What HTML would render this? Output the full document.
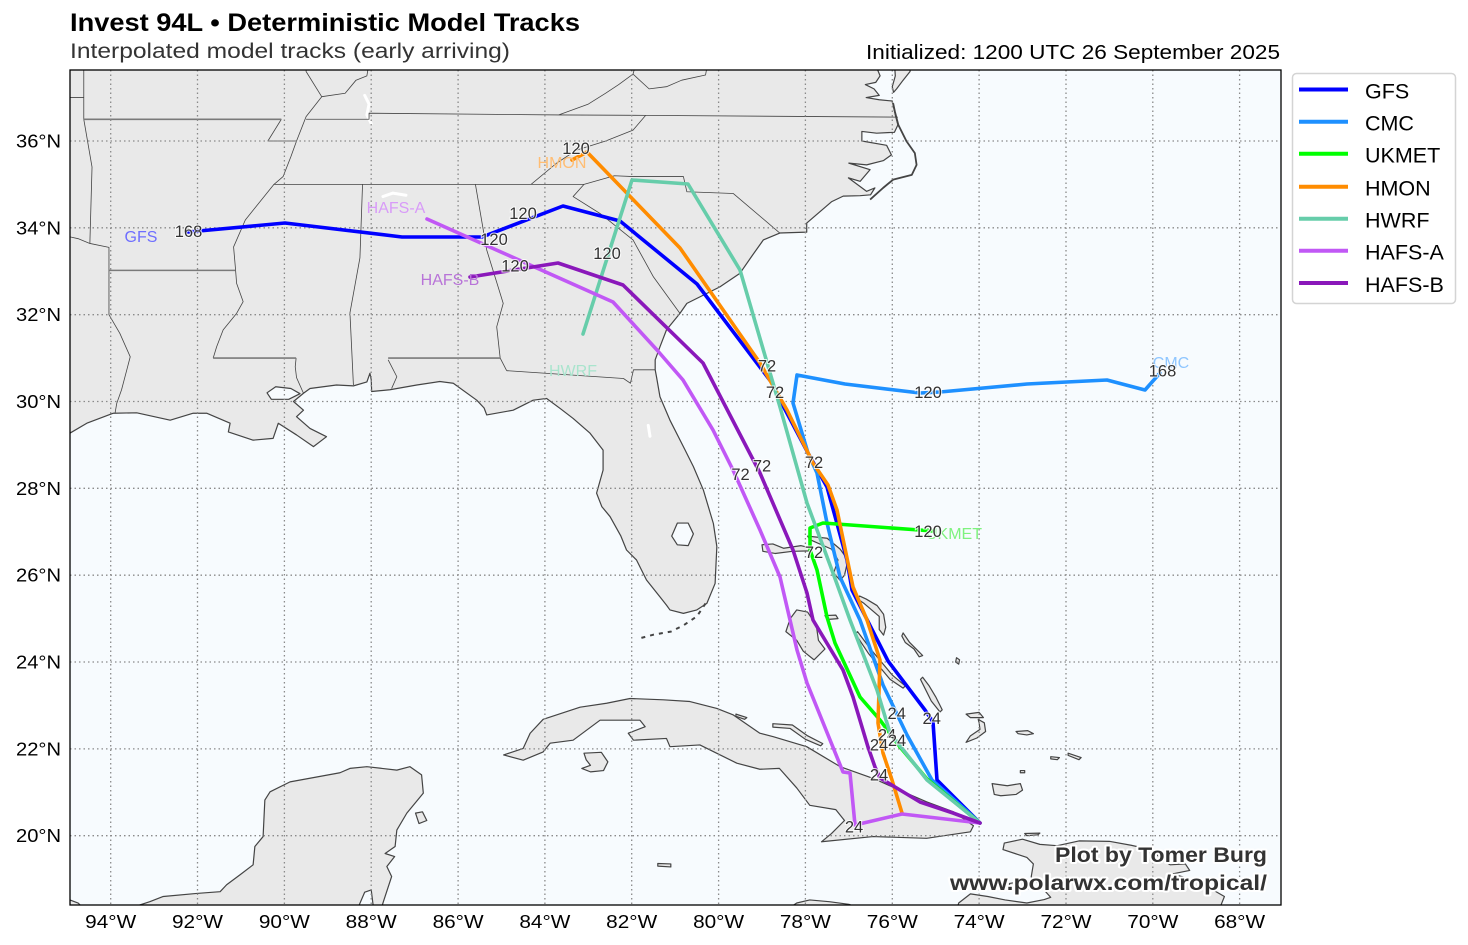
<!DOCTYPE html>
<html><head><meta charset="utf-8"><style>
html,body{margin:0;padding:0;background:#fff;}
svg{display:block;}
text{font-family:"Liberation Sans",Arial,sans-serif;}
.m *{vector-effect:non-scaling-stroke;}
</style></head><body>
<svg width="1468" height="945" viewBox="0 0 1468 945" xmlns="http://www.w3.org/2000/svg">
<defs><clipPath id="pc"><rect x="70" y="70" width="1211" height="835"/></clipPath></defs>
<rect x="0" y="0" width="1468" height="945" fill="#fff"/>
<g clip-path="url(#pc)">
<rect x="70" y="70" width="1211" height="835" fill="#f7fbfe"/>
<g class="m" transform="matrix(43.42,0,0,-43.42,4192.18,1704.1)" fill="#e9e9e9" stroke="#444" stroke-width="1.2" stroke-linejoin="round">
<!-- US mainland -->
<polygon points="-95.2,37.8 -76.35,37.8 -76.33,37.62 -76.28,37.5 -76.38,37.35 -76.62,37.3 -76.42,37.2 -76.3,37.05 -76.6,37.0 -76.3,36.95 -76.0,36.92 -75.93,36.6 -75.87,36.37 -75.95,36.2 -76.36,36.18 -76.7,36.22 -76.7,36.0 -76.13,35.9 -76.02,35.68 -76.2,35.55 -76.59,35.45 -77.0,35.49 -76.51,35.34 -76.74,35.07 -77.01,35.15 -76.59,34.84 -76.4,34.92 -76.5,34.76 -76.74,34.74 -77.13,34.73 -77.4,34.6 -77.97,34.11 -77.97,33.9 -78.59,33.88 -78.97,33.72 -79.24,33.34 -79.51,32.95 -79.97,32.64 -80.43,32.41 -80.73,32.26 -80.89,32.03 -81.2,31.65 -81.35,31.26 -81.46,30.96 -81.46,30.73 -81.43,30.57 -81.35,30.11 -81.12,29.57 -80.77,28.88 -80.58,28.5 -80.35,27.96 -80.12,27.19 -80.04,26.66 -80.08,25.81 -80.27,25.35 -80.5,25.2 -80.81,25.12 -81.12,25.2 -81.2,25.31 -81.35,25.5 -81.66,25.89 -81.89,26.35 -82.12,26.58 -82.25,26.9 -82.5,27.35 -82.69,27.58 -82.81,27.89 -82.66,28.42 -82.66,28.88 -82.96,29.27 -83.35,29.61 -83.65,29.84 -83.96,30.07 -84.27,30.03 -84.73,29.8 -85.34,29.69 -85.4,29.85 -85.57,30.03 -86.11,30.42 -86.42,30.46 -86.95,30.38 -87.57,30.27 -87.99,30.23 -88.0,30.5 -88.03,30.65 -88.1,30.45 -88.41,30.36 -88.8,30.38 -89.41,30.3 -89.56,30.19 -89.79,30.0 -89.56,29.8 -89.72,29.65 -89.41,29.38 -89.03,29.19 -89.33,28.96 -89.72,29.23 -90.14,29.5 -90.26,29.15 -90.72,29.11 -91.29,29.3 -91.25,29.5 -91.79,29.73 -92.1,29.73 -92.63,29.57 -93.4,29.74 -93.94,29.73 -94.55,29.5 -94.94,29.27 -95.2,29.2"/>
<!-- Delmarva -->
<polygon points="-75.95,37.8 -75.58,37.8 -75.59,37.6 -75.75,37.4 -75.9,37.2 -75.97,37.12 -76.0,37.25 -75.93,37.5"/>
<!-- Mexico -->
<polygon points="-95.2,18.35 -95.2,18.55 -94.94,18.52 -94.75,18.45 -94.65,18.35"/>
<polygon points="-93.5,18.35 -93.1,18.48 -92.79,18.6 -92.02,18.67 -91.48,18.71 -91.33,18.87 -91.02,19.1 -90.72,19.33 -90.68,19.75 -90.49,19.98 -90.45,20.82 -90.33,21.01 -89.87,21.24 -88.72,21.45 -88.49,21.55 -88.1,21.59 -87.41,21.51 -87.11,21.59 -86.84,21.4 -86.8,20.98 -87.18,20.52 -87.41,20.13 -87.45,19.75 -87.68,19.59 -87.46,19.52 -87.64,19.29 -87.53,19.06 -87.72,18.48 -87.76,18.35 -87.95,18.35 -88.0,18.75 -88.15,18.7 -88.3,18.35"/>
<polygon points="-86.98,20.52 -86.82,20.55 -86.72,20.35 -86.9,20.28"/>
<!-- Cuba -->
<polygon points="-84.95,21.86 -84.5,22.01 -84.34,22.36 -84.04,22.68 -83.19,22.96 -82.58,23.05 -82.04,23.16 -81.27,23.13 -80.66,23.09 -80.04,22.93 -79.66,22.78 -79.05,22.36 -78.74,22.28 -77.97,22.05 -77.2,21.59 -76.44,21.32 -75.67,20.98 -75.21,20.78 -74.59,20.55 -74.13,20.23 -74.2,20.09 -75.21,19.94 -76.44,19.98 -77.63,19.86 -77.4,20.05 -77.1,20.35 -77.3,20.6 -77.9,20.7 -78.2,21.1 -78.6,21.55 -79.05,21.53 -79.58,21.67 -80.43,22.09 -81.12,22.05 -81.2,22.24 -81.96,22.2 -82.08,22.36 -81.69,22.51 -81.81,22.66 -82.73,22.66 -83.35,22.2 -83.88,22.13 -84.04,21.93 -84.5,21.74"/>
<polygon points="-83.1,21.9 -82.7,21.92 -82.55,21.7 -82.65,21.5 -82.95,21.47 -83.15,21.55 -82.95,21.62 -83.05,21.75"/>
<polygon points="-79.6,22.8 -79.35,22.72 -79.4,22.68 -79.6,22.75"/>
<polygon points="-78.75,22.58 -78.3,22.55 -77.95,22.3 -77.6,22.12 -77.65,22.07 -78.0,22.22 -78.35,22.47 -78.75,22.5"/>
<polygon points="-81.4,19.36 -81.1,19.35 -81.1,19.28 -81.4,19.3"/>
<!-- Jamaica sliver -->
<polygon points="-78.35,18.35 -78.2,18.45 -77.9,18.52 -77.45,18.48 -77.0,18.42 -76.8,18.35"/>
<!-- Hispaniola -->
<polygon points="-74.5,18.35 -74.47,18.45 -74.2,18.66 -73.8,18.6 -73.4,18.52 -72.9,18.45 -72.5,18.53 -72.35,18.58 -72.55,18.8 -72.8,19.05 -72.75,19.35 -72.9,19.5 -73.45,19.68 -73.42,19.83 -73.0,19.92 -72.6,19.8 -72.2,19.77 -71.7,19.88 -71.0,19.87 -70.5,19.78 -70.0,19.67 -69.8,19.45 -69.6,19.33 -69.25,19.35 -69.15,19.2 -69.55,19.12 -69.3,19.05 -69.0,18.95 -68.7,18.8 -68.35,18.6 -68.45,18.35"/>
<polygon points="-73.3,18.9 -73.0,18.95 -72.75,18.8 -73.0,18.75 -73.3,18.82"/>
<polygon points="-72.95,20.05 -72.6,20.06 -72.65,20.02 -72.9,20.0"/>
<!-- Bahamas / Turks -->
<polygon points="-79.0,26.7 -78.75,26.72 -78.5,26.62 -78.1,26.68 -77.85,26.62 -77.9,26.56 -78.3,26.55 -78.7,26.5 -78.98,26.55"/>
<polygon points="-77.95,26.9 -77.5,26.85 -77.2,26.6 -77.02,26.35 -77.1,26.0 -77.2,25.88 -77.35,26.05 -77.25,26.35 -77.4,26.6 -77.9,26.82"/>
<polygon points="-78.2,25.2 -77.95,25.15 -77.75,24.85 -77.7,24.5 -77.55,24.3 -77.8,24.05 -78.05,24.25 -78.2,24.5 -78.45,24.7 -78.35,25.0"/>
<polygon points="-77.55,25.07 -77.3,25.08 -77.25,25.0 -77.5,24.98"/>
<polygon points="-76.75,25.52 -76.6,25.45 -76.35,25.3 -76.2,25.1 -76.15,24.8 -76.2,24.62 -76.3,24.75 -76.3,25.05 -76.65,25.35 -76.8,25.45"/>
<polygon points="-75.75,24.67 -75.6,24.45 -75.4,24.25 -75.3,24.15 -75.38,24.12 -75.5,24.3 -75.7,24.45 -75.78,24.6"/>
<polygon points="-76.8,24.7 -76.5,24.3 -76.0,23.7 -75.7,23.45 -75.75,23.4 -76.05,23.6 -76.55,24.2 -76.85,24.65"/>
<polygon points="-75.3,23.65 -75.15,23.45 -75.0,23.2 -74.85,22.9 -74.9,22.85 -75.1,23.1 -75.25,23.4 -75.35,23.6"/>
<polygon points="-74.52,24.1 -74.45,24.05 -74.47,23.95 -74.54,24.0"/>
<polygon points="-74.3,22.8 -74.0,22.84 -73.9,22.72 -74.2,22.72"/>
<polygon points="-74.02,22.68 -73.88,22.6 -73.85,22.4 -74.05,22.25 -74.3,22.15 -74.2,22.3 -73.98,22.45 -74.0,22.6"/>
<polygon points="-73.15,22.4 -72.88,22.42 -72.75,22.35 -72.9,22.32 -73.1,22.35"/>
<polygon points="-73.7,21.2 -73.35,21.15 -73.05,21.2 -73.0,21.05 -73.15,20.95 -73.5,20.92 -73.65,20.95"/>
<polygon points="-73.05,21.5 -72.95,21.5 -72.95,21.45 -73.05,21.45"/>
<polygon points="-72.35,21.82 -72.15,21.8 -72.2,21.75 -72.35,21.77"/>
<polygon points="-71.95,21.9 -71.65,21.8 -71.7,21.75 -71.95,21.85"/>
<!-- lakes -->
<g fill="#f7fbfe">
<polygon points="-90.4,30.2 -90.2,30.34 -89.85,30.3 -89.64,30.18 -89.9,30.05 -90.3,30.05"/>
<polygon points="-80.95,27.2 -80.7,27.2 -80.58,26.95 -80.7,26.68 -80.95,26.7 -81.08,26.9"/>
</g>
<g fill="none" stroke="#fff" stroke-width="3" stroke-linecap="round">
<polyline points="-88.15,37.05 -88.05,36.85 -88.1,36.6 -88.0,36.4"/>
<polyline points="-87.73,34.72 -87.5,34.8 -87.2,34.75"/>
<polyline points="-81.62,29.45 -81.58,29.2"/>
</g>
<!-- keys -->
<polyline fill="none" stroke="#444" stroke-width="2" stroke-dasharray="4 5" points="-80.3,25.35 -80.5,25.05 -80.8,24.85 -81.1,24.7 -81.5,24.63 -81.8,24.55"/>
<!-- Outer Banks -->
<polyline fill="none" stroke="#444" stroke-width="1.8" points="-75.98,36.87 -75.94,36.68 -75.86,36.37 -75.67,35.99 -75.48,35.72 -75.44,35.45 -75.55,35.22 -75.98,35.11 -76.21,34.92 -76.51,34.65"/>
<!-- state borders thin -->
<g fill="none" stroke="#444" stroke-width="0.8">
<polyline points="-95.2,37.0 -94.62,37.0"/>
<polyline points="-94.62,37.8 -94.62,36.5 -94.43,35.4 -94.48,33.64"/>
<polyline points="-95.2,33.85 -94.75,33.75 -94.48,33.64 -94.04,33.55 -94.04,33.02 -94.04,32.0 -93.79,31.57 -93.55,31.03 -93.75,30.27 -93.86,29.96 -93.9,29.73"/>
<polyline points="-89.5,37.8 -89.5,37.6 -89.14,37.02 -89.5,36.56 -89.72,36.0 -89.85,35.64 -90.03,35.18 -90.25,34.99 -90.9,34.18 -91.17,33.56 -91.13,33.1 -91.1,32.72 -90.95,32.3 -91.1,32.03 -91.41,31.65 -91.56,31.26 -91.64,31.0"/>
<polyline points="-90.07,36.5 -90.38,36.0 -89.72,36.0"/>
<polyline points="-89.14,37.02 -88.6,37.1 -88.35,37.4 -88.1,37.5 -88.05,37.8"/>
<polyline points="-89.73,31.0 -89.75,30.8 -89.72,30.55 -89.56,30.19"/>
<polyline points="-90.25,35.0 -83.1,35.0"/>
<polyline points="-89.5,36.5 -88.05,36.5 -88.05,36.64 -83.68,36.6 -81.68,36.59 -75.87,36.55"/>
<polyline points="-81.68,36.59 -81.97,36.25 -82.6,36.0 -83.27,35.79 -83.73,35.49 -84.32,35.0"/>
<polyline points="-83.68,36.6 -83.0,36.85 -82.6,37.1 -82.3,37.3 -81.97,37.54 -81.9,37.8"/>
<polyline points="-81.97,37.54 -81.6,37.2 -81.2,37.25 -80.85,37.4 -80.3,37.52 -80.25,37.8"/>
<polyline points="-88.2,35.0 -88.26,33.31 -88.49,32.04 -88.41,30.38"/>
<polyline points="-85.6,35.0 -85.34,33.49 -84.96,32.26 -85.11,31.72 -85.03,31.0 -84.88,30.71"/>
<polyline points="-87.61,30.96 -87.41,30.57 -87.53,30.3"/>
<polyline points="-84.88,30.71 -82.19,30.53 -82.03,30.42 -81.96,30.73 -81.46,30.73"/>
<polyline points="-83.1,35.0 -83.35,34.72 -82.73,34.33 -81.97,33.72 -81.5,32.87 -80.89,32.03"/>
<polyline points="-83.1,35.0 -82.4,35.2 -81.97,35.18 -80.81,35.18 -80.73,34.83 -79.66,34.79 -78.59,33.88"/>
</g>
<g fill="none" stroke="#7a7a7a" stroke-width="1.6">
<polyline points="-94.62,36.5 -90.07,36.5"/>
<polyline points="-94.04,33.02 -91.13,33.02"/>
<polyline points="-91.64,31.0 -89.73,31.0"/>
<polyline points="-87.61,31.0 -85.03,31.0"/>
</g>
</g>
<!-- grid -->
<g stroke="#8a8a8a" stroke-width="1.3" stroke-dasharray="1.5 3">
<line x1="110.7" y1="70" x2="110.7" y2="905"/><line x1="197.5" y1="70" x2="197.5" y2="905"/><line x1="284.4" y1="70" x2="284.4" y2="905"/><line x1="371.2" y1="70" x2="371.2" y2="905"/><line x1="458.1" y1="70" x2="458.1" y2="905"/><line x1="544.9" y1="70" x2="544.9" y2="905"/><line x1="631.7" y1="70" x2="631.7" y2="905"/><line x1="718.6" y1="70" x2="718.6" y2="905"/><line x1="805.4" y1="70" x2="805.4" y2="905"/><line x1="892.3" y1="70" x2="892.3" y2="905"/><line x1="979.1" y1="70" x2="979.1" y2="905"/><line x1="1066" y1="70" x2="1066" y2="905"/><line x1="1152.8" y1="70" x2="1152.8" y2="905"/><line x1="1239.6" y1="70" x2="1239.6" y2="905"/>
<line x1="70" y1="835.7" x2="1281" y2="835.7"/><line x1="70" y1="748.9" x2="1281" y2="748.9"/><line x1="70" y1="662" x2="1281" y2="662"/><line x1="70" y1="575.2" x2="1281" y2="575.2"/><line x1="70" y1="488.3" x2="1281" y2="488.3"/><line x1="70" y1="401.5" x2="1281" y2="401.5"/><line x1="70" y1="314.7" x2="1281" y2="314.7"/><line x1="70" y1="227.8" x2="1281" y2="227.8"/><line x1="70" y1="141" x2="1281" y2="141"/>
</g>
<!-- tracks -->
<g fill="none" stroke-width="3.6" stroke-linejoin="round" stroke-linecap="round">
<polyline stroke="#0000ff" points="188,232 285,223 402,237 482,237 563,206 620,221 697,284 772,383 780,400 808,453 827,487 847,560 852,590 888,661 925,710 933,722 937,780 980,823"/>
<polyline stroke="#1e90ff" points="1160,373 1145,390 1107,380 1027,384 940,392 920,393 845,384 797,375 793,403 808,453 817,473 827,523 840,577 860,620 883,685 907,735 932,780 980,823"/>
<polyline stroke="#00ff00" points="933,531 823,523 810,528 810,550 817,570 827,617 835,643 860,697 880,720 900,747 927,779 980,823"/>
<polyline stroke="#ff8c00" points="572,160 587,152 680,248 760,363 787,410 813,463 828,485 837,510 853,587 867,620 880,660 878,723 883,753 892,780 902,813"/>
<polyline stroke="#66cdaa" points="583,334 632,180 688,184 740,270 780,407 807,503 833,573 850,620 877,690 890,733 927,780 980,823"/>
<polyline stroke="#c158f5" points="427,219 613,302 657,350 683,380 713,430 733,470 760,530 780,577 797,650 807,683 843,772 850,773 855,825 902,814 980,823"/>
<polyline stroke="#8a18ba" points="470,277 558,263 623,285 703,363 760,473 793,550 807,593 813,620 843,670 853,697 868,747 875,767 880,778 900,790 920,802 953,813 980,823"/>
</g>
<!-- model name labels -->
<g font-size="16" text-anchor="middle">
<text x="141" y="242" fill="#6e6eff">GFS</text>
<text x="1171" y="368" fill="#8fc6ff">CMC</text>
<text x="954" y="539" fill="#7ef27e">UKMET</text>
<text x="562" y="168" fill="#ffbd73">HMON</text>
<text x="573" y="376" fill="#a9e4cd">HWRF</text>
<text x="396" y="213" fill="#d89bf8">HAFS-A</text>
<text x="450" y="285" fill="#b873d8">HAFS-B</text>
</g>
<!-- hour labels -->
<g font-size="16.5" text-anchor="middle" fill="#333" stroke="#fff" stroke-width="2" paint-order="stroke" stroke-opacity="0.8">
<text x="188.5" y="237">168</text>
<text x="1162.5" y="376.5">168</text>
<text x="576" y="154">120</text>
<text x="523" y="219">120</text>
<text x="494" y="245">120</text>
<text x="515" y="271.5">120</text>
<text x="607" y="259">120</text>
<text x="928" y="398">120</text>
<text x="928" y="537">120</text>
<text x="767" y="371.5">72</text>
<text x="775" y="398">72</text>
<text x="814" y="468">72</text>
<text x="762" y="471.5">72</text>
<text x="740.5" y="480">72</text>
<text x="814" y="558">72</text>
<text x="896.7" y="719">24</text>
<text x="931.7" y="724">24</text>
<text x="887" y="740.5">24</text>
<text x="897" y="746">24</text>
<text x="879" y="750.5">24</text>
<text x="879" y="780.5">24</text>
<text x="854" y="832.5">24</text>
</g>
<!-- watermark -->
<g font-weight="bold" font-size="21" fill="#333" stroke="#fff" stroke-width="4" paint-order="stroke" stroke-linejoin="round">
<text x="1055" y="862" textLength="212" lengthAdjust="spacingAndGlyphs">Plot by Tomer Burg</text>
<text x="950" y="890" textLength="317" lengthAdjust="spacingAndGlyphs">www.polarwx.com/tropical/</text>
</g>
</g>
<rect x="70" y="70" width="1211" height="835" fill="none" stroke="#000" stroke-width="1.3"/>
<!-- axis labels -->
<g font-size="18" fill="#000" text-anchor="middle">
<text x="110.7" y="928" textLength="51" lengthAdjust="spacingAndGlyphs">94°W</text>
<text x="197.5" y="928" textLength="51" lengthAdjust="spacingAndGlyphs">92°W</text>
<text x="284.4" y="928" textLength="51" lengthAdjust="spacingAndGlyphs">90°W</text>
<text x="371.2" y="928" textLength="51" lengthAdjust="spacingAndGlyphs">88°W</text>
<text x="458.1" y="928" textLength="51" lengthAdjust="spacingAndGlyphs">86°W</text>
<text x="544.9" y="928" textLength="51" lengthAdjust="spacingAndGlyphs">84°W</text>
<text x="631.7" y="928" textLength="51" lengthAdjust="spacingAndGlyphs">82°W</text>
<text x="718.6" y="928" textLength="51" lengthAdjust="spacingAndGlyphs">80°W</text>
<text x="805.4" y="928" textLength="51" lengthAdjust="spacingAndGlyphs">78°W</text>
<text x="892.3" y="928" textLength="51" lengthAdjust="spacingAndGlyphs">76°W</text>
<text x="979.1" y="928" textLength="51" lengthAdjust="spacingAndGlyphs">74°W</text>
<text x="1066" y="928" textLength="51" lengthAdjust="spacingAndGlyphs">72°W</text>
<text x="1152.8" y="928" textLength="51" lengthAdjust="spacingAndGlyphs">70°W</text>
<text x="1239.6" y="928" textLength="51" lengthAdjust="spacingAndGlyphs">68°W</text>
</g>
<g font-size="18" fill="#000" text-anchor="end">
<text x="61" y="842.2" textLength="45" lengthAdjust="spacingAndGlyphs">20°N</text>
<text x="61" y="755.4" textLength="45" lengthAdjust="spacingAndGlyphs">22°N</text>
<text x="61" y="668.5" textLength="45" lengthAdjust="spacingAndGlyphs">24°N</text>
<text x="61" y="581.7" textLength="45" lengthAdjust="spacingAndGlyphs">26°N</text>
<text x="61" y="494.8" textLength="45" lengthAdjust="spacingAndGlyphs">28°N</text>
<text x="61" y="408" textLength="45" lengthAdjust="spacingAndGlyphs">30°N</text>
<text x="61" y="321.2" textLength="45" lengthAdjust="spacingAndGlyphs">32°N</text>
<text x="61" y="234.3" textLength="45" lengthAdjust="spacingAndGlyphs">34°N</text>
<text x="61" y="147.5" textLength="45" lengthAdjust="spacingAndGlyphs">36°N</text>
</g>
<!-- titles -->
<text x="70" y="31" font-size="25" font-weight="bold" fill="#000" textLength="510" lengthAdjust="spacingAndGlyphs">Invest 94L • Deterministic Model Tracks</text>
<text x="70" y="58" font-size="21" fill="#333" textLength="440" lengthAdjust="spacingAndGlyphs">Interpolated model tracks (early arriving)</text>
<text x="866" y="59" font-size="20.5" fill="#000" textLength="414" lengthAdjust="spacingAndGlyphs">Initialized: 1200 UTC 26 September 2025</text>
<!-- legend -->
<rect x="1292.5" y="73.5" width="163" height="230" rx="4" fill="#fff" stroke="#d4d4d4" stroke-width="1.5"/>
<g stroke-width="4">
<line x1="1299" y1="89.5" x2="1348" y2="89.5" stroke="#0000ff"/>
<line x1="1299" y1="121.7" x2="1348" y2="121.7" stroke="#1e90ff"/>
<line x1="1299" y1="153.8" x2="1348" y2="153.8" stroke="#00ff00"/>
<line x1="1299" y1="186.8" x2="1348" y2="186.8" stroke="#ff8c00"/>
<line x1="1299" y1="218.8" x2="1348" y2="218.8" stroke="#66cdaa"/>
<line x1="1299" y1="250.8" x2="1348" y2="250.8" stroke="#c158f5"/>
<line x1="1299" y1="283" x2="1348" y2="283" stroke="#8a18ba"/>
</g>
<g font-size="21.5" fill="#000">
<text x="1365" y="98.3">GFS</text>
<text x="1365" y="130.5">CMC</text>
<text x="1365" y="162.6">UKMET</text>
<text x="1365" y="195.6">HMON</text>
<text x="1365" y="227.6">HWRF</text>
<text x="1365" y="259.6">HAFS-A</text>
<text x="1365" y="291.8">HAFS-B</text>
</g>
</svg>
</body></html>
